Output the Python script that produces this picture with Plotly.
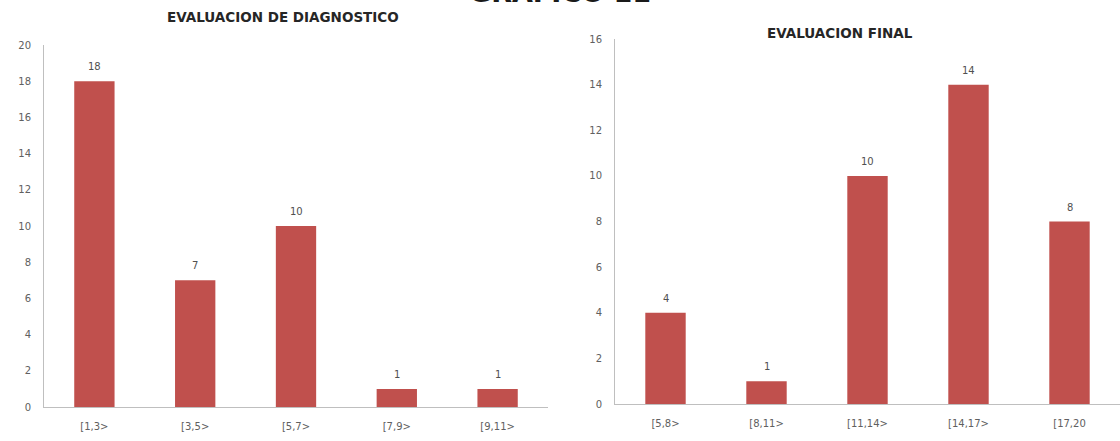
import plotly.graph_objects as go

# Frequency tables for the two evaluations
diag_labels = ["[1,3>", "[3,5>", "[5,7>", "[7,9>", "[9,11>"]
diag_counts = [18, 7, 10, 1, 1]

final_labels = ["[5,8>", "[8,11>", "[11,14>", "[14,17>", "[17,20"]
final_counts = [4, 1, 10, 14, 8]

BAR = "#C0504D"
AXIS = "#BFBFBF"
TICK = "#606060"
FONT = "DejaVu Sans"
W, H = 1120, 441

fig = go.Figure()
fig.add_trace(go.Bar(x=diag_labels, y=diag_counts, marker_color=BAR,
                     marker_line_width=0, xaxis="x", yaxis="y"))
fig.add_trace(go.Bar(x=final_labels, y=final_counts, marker_color=BAR,
                     marker_line_width=0, xaxis="x2", yaxis="y2"))

axis_common = dict(showgrid=False, zeroline=False, showline=True, linecolor=AXIS,
                   linewidth=1, ticks="", automargin=False, ticklabelstandoff=10,
                   tickfont=dict(family=FONT, size=10, color=TICK))

# value labels sitting above each bar
value_notes = []
for labels, counts, xr, yr in [(diag_labels, diag_counts, "x", "y"),
                               (final_labels, final_counts, "x2", "y2")]:
    for lab, v in zip(labels, counts):
        value_notes.append(dict(x=lab, y=v, xref=xr, yref=yr, text=str(v),
                                showarrow=False, yanchor="bottom", yshift=7,
                                font=dict(family=FONT, size=10, color="#505050")))

fig.update_layout(
    width=W, height=H,
    margin=dict(l=0, r=0, t=0, b=0),
    plot_bgcolor="white", paper_bgcolor="white",
    showlegend=False, bargap=0.6,
    xaxis=dict(domain=[44 / W, 548 / W], anchor="y", **axis_common),
    yaxis=dict(domain=[34 / H, 396 / H], range=[0, 20], dtick=2, anchor="x",
               **axis_common),
    xaxis2=dict(domain=[615 / W, 1.0], anchor="y2", **axis_common),
    yaxis2=dict(domain=[37 / H, 402 / H], range=[0, 16], dtick=2, anchor="x2",
                **axis_common),
    annotations=value_notes + [
        dict(text="<b>GRAFICO 11</b>", xref="paper", yref="paper",
             x=560 / W, y=(H - 10) / H, xanchor="center", yanchor="bottom",
             showarrow=False, font=dict(family=FONT, size=27, color="#1a1a1a")),
        dict(text="<b>EVALUACION DE DIAGNOSTICO</b>", xref="paper", yref="paper",
             x=283 / W, y=(H - 17) / H, xanchor="center", yanchor="middle",
             showarrow=False, font=dict(family=FONT, size=13.5, color="#262626")),
        dict(text="<b>EVALUACION FINAL</b>", xref="paper", yref="paper",
             x=840 / W, y=(H - 33) / H, xanchor="center", yanchor="middle",
             showarrow=False, font=dict(family=FONT, size=13.5, color="#262626")),
    ],
)

fig.write_html("out.html")
